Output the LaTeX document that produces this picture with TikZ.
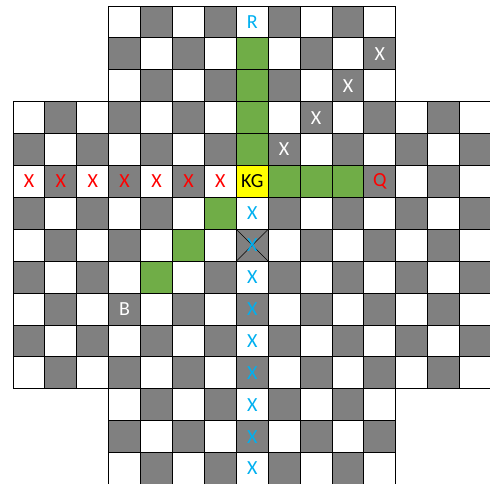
\documentclass[tikz,border=0pt]{standalone}
\usepackage{fontspec}
\setmainfont{Carlito}
\definecolor{darksq}{HTML}{808080}
\definecolor{pathgreen}{HTML}{70AD47}
\definecolor{kgyellow}{HTML}{FFFF00}
\definecolor{bluex}{HTML}{00B0F0}
\definecolor{redx}{HTML}{FF0000}
\tikzset{
  lbl/.style={font=\fontsize{20}{24}\selectfont, inner sep=0pt, anchor=center},
  bluelbl/.style={lbl, text=bluex},
  redlbl/.style={lbl, text=redx},
  whitelbl/.style={lbl, text=white},
  blacklbl/.style={lbl, text=black},
  gridline/.style={draw=black, line width=0.9pt},
  crossline/.style={draw=black, line width=0.6pt}
}
\begin{document}
\begin{tikzpicture}
\useasboundingbox (0,0) rectangle (490pt,-483pt);
\clip (0,0) rectangle (490pt,-483pt);
\begin{scope}[shift={(13pt,-6pt)}, x=31.9pt, y=-31.9pt]
  % squares
  \foreach \c in {0,...,14}{
    \foreach \r in {0,...,14}{
      \pgfmathtruncatemacro\inside{or(and(\c>2,\c<12),and(\r>2,\r<12))}
      \ifnum\inside=1
        \pgfmathtruncatemacro\parity{mod(\c+\r,2)}
        \ifnum\parity=0
          \fill[darksq] (\c,\r) rectangle ++(1,1);
        \else
          \fill[white] (\c,\r) rectangle ++(1,1);
        \fi
      \fi
    }
  }
  % path squares
  \foreach \c/\r in {7/1,7/2,7/3,7/4,8/5,9/5,10/5,6/6,5/7,4/8}{
    \fill[pathgreen] (\c,\r) rectangle ++(1,1);
  }
  \fill[kgyellow] (7,5) rectangle ++(1,1);
  % grid
  \foreach \c in {0,...,14}{
    \foreach \r in {0,...,14}{
      \pgfmathtruncatemacro\inside{or(and(\c>2,\c<12),and(\r>2,\r<12))}
      \ifnum\inside=1
        \draw[gridline] (\c,\r) rectangle ++(1,1);
      \fi
    }
  }
  % crossed square
  \coordinate (xa) at (7,7);
  \coordinate (xb) at (8,8);
  \coordinate (xc) at (8,7);
  \coordinate (xd) at (7,8);
  \draw[crossline] (xa) -- (xb);
  \draw[crossline] (xc) -- (xd);
  % labels
  \node[bluelbl] (rook) at (7.5,0.5) {R};
  \node[blacklbl] (kg) at (7.5,5.5) {KG};
  \node[redlbl] (queen) at (11.5,5.5) {Q};
  \node[whitelbl] (bishop) at (3.5,9.5) {B};
  \foreach \c in {0,...,6}{
    \node[redlbl] (rx\c) at (\c+0.5,5.5) {X};
  }
  \foreach \c/\r in {8/4,9/3,10/2,11/1}{
    \node[whitelbl] (wx\c) at (\c+0.5,\r+0.5) {X};
  }
  \foreach \r in {6,...,14}{
    \node[bluelbl] (bx\r) at (7.5,\r+0.5) {X};
  }
\end{scope}
\end{tikzpicture}
\end{document}
